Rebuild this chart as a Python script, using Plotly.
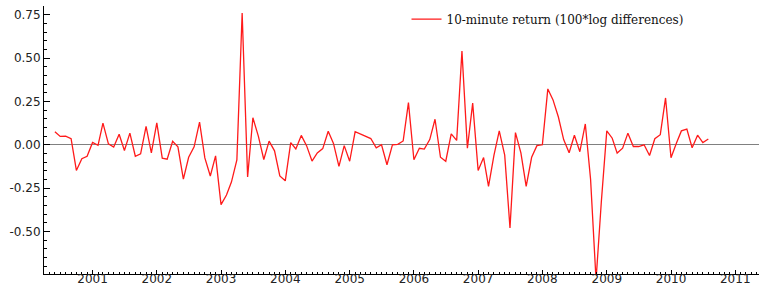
import plotly.graph_objects as go
import pandas as pd

start_month = "2000-06-01"
returns = [
    0.075, 0.048, 0.05, 0.035, -0.148, -0.08, -0.066, 0.013, -0.003, 0.125,
    0.005, -0.013, 0.061, -0.033, 0.067, -0.066, -0.052, 0.106, -0.047, 0.126,
    -0.077, -0.083, 0.02, -0.012, -0.198, -0.072, -0.012, 0.13, -0.076, -0.18,
    -0.064, -0.345, -0.29, -0.215, -0.087, 0.76, -0.185, 0.156, 0.05, -0.085,
    0.021, -0.035, -0.18, -0.208, 0.012, -0.024, 0.054, -0.005, -0.094, -0.047,
    -0.022, 0.078, 0.008, -0.125, -0.005, -0.095, 0.075, 0.062, 0.05, 0.036,
    -0.018, 0.0, -0.115, 0.0, 0.002, 0.022, 0.243, -0.086, -0.02, -0.025,
    0.03, 0.147, -0.072, -0.095, 0.063, 0.025, 0.54, -0.02, 0.24, -0.148,
    -0.074, -0.24, -0.06, 0.08, -0.06, -0.48, 0.07, -0.047, -0.24, -0.072,
    -0.005, 0.0, 0.322, 0.26, 0.16, 0.03, -0.046, 0.055, -0.04, 0.12,
    -0.2, -0.78, -0.33, 0.08, 0.038, -0.048, -0.02, 0.067, -0.01, -0.01,
    0.0, -0.062, 0.035, 0.058, 0.27, -0.075, 0.01, 0.08, 0.09, -0.017,
    0.055, 0.013, 0.033,
]
dates = pd.date_range(start_month, periods=len(returns), freq="MS")

y_tick_vals = [0.75, 0.50, 0.25, 0.0, -0.25, -0.50]
y_tick_text = ["0.75", "0.50", "0.25", "0.00", "-0.25", "-0.50"]
series_name = "10-minute return (100*log differences)"

fig = go.Figure()
fig.add_trace(go.Scatter(
    x=dates, y=returns, mode="lines", name=series_name,
    line=dict(color="#ff1a1a", width=1.3),
))

fig.update_layout(
    width=759, height=285,
    margin=dict(l=44, r=0, t=6, b=11, autoexpand=False),
    paper_bgcolor="white", plot_bgcolor="white",
    showlegend=True,
    legend=dict(
        x=0.507, y=1.005, xanchor="left", yanchor="top",
        bgcolor="rgba(0,0,0,0)",
        font=dict(family="DejaVu Serif", size=12, color="#111"),
    ),
    font=dict(family="DejaVu Sans", size=12, color="#222"),
)
fig.update_xaxes(
    type="date", automargin=False,
    range=["2000-03-31", "2011-05-16"],
    showgrid=False, zeroline=False,
    showline=True, linecolor="black", linewidth=1,
    ticks="inside", ticklen=4, tickcolor="black",
    dtick="M12", tick0="2001-01-01", tickformat="%Y",
    ticklabelstandoff=-6,
    minor=dict(ticks="inside", ticklen=2, dtick="M1", tickcolor="black", showgrid=False),
    tickfont=dict(family="DejaVu Sans", size=12, color="#222"),
)
fig.update_yaxes(
    automargin=False,
    range=[-0.745, 0.80],
    showgrid=False,
    zeroline=True, zerolinecolor="#808080", zerolinewidth=1,
    showline=True, linecolor="black", linewidth=1,
    ticks="inside", ticklen=6, tickcolor="black",
    tickmode="array", tickvals=y_tick_vals, ticktext=y_tick_text,
    minor=dict(ticks="inside", ticklen=3, dtick=0.05, tick0=0, tickcolor="black", showgrid=False),
    tickfont=dict(family="DejaVu Sans", size=12, color="#222"),
)

fig.write_html(
    "out.html",
    config={"displayModeBar": False},
    post_script="document.body.style.margin='0';document.body.style.overflow='hidden';",
)
